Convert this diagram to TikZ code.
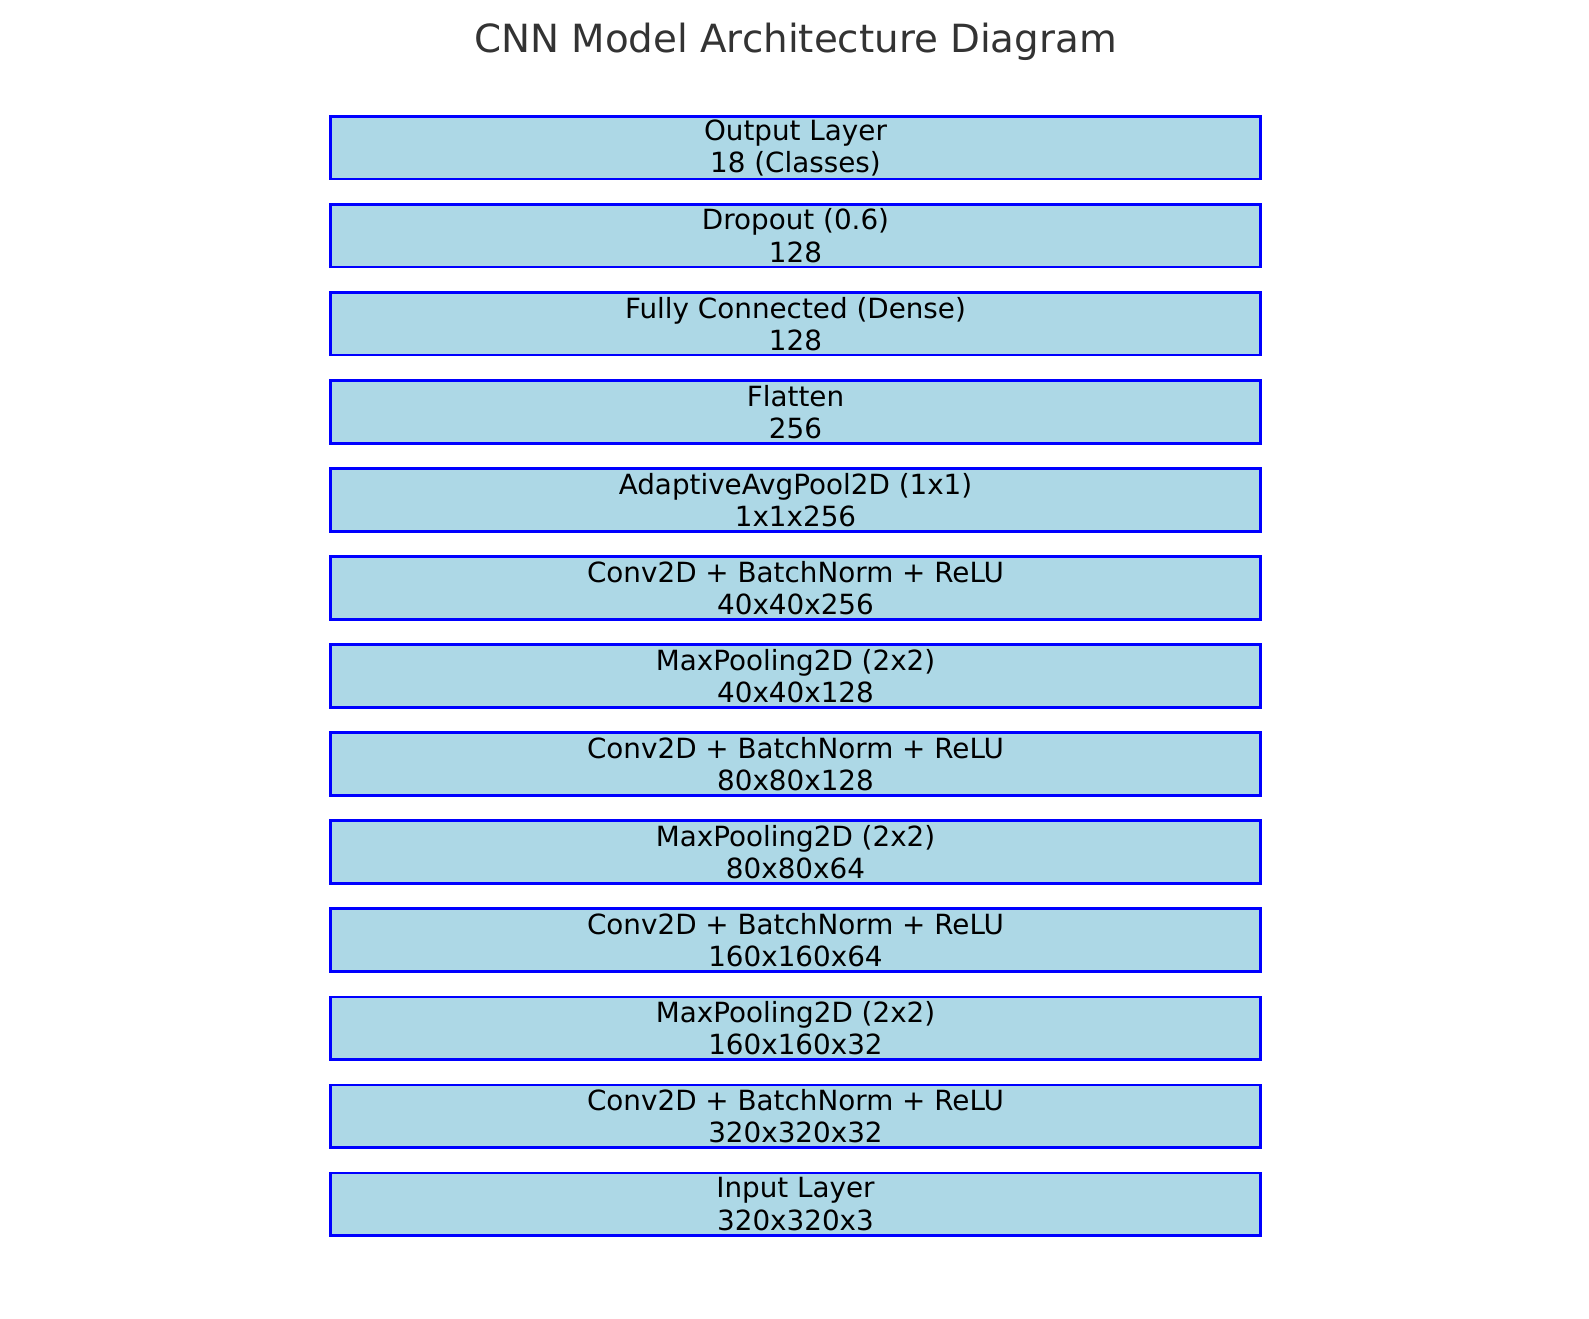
\documentclass[tikz,border=0pt]{standalone}
\usepackage{fontspec}
\setmainfont{DejaVu Sans}
\definecolor{boxfill}{HTML}{ADD8E6}
\definecolor{boxline}{HTML}{0000FF}
\definecolor{titlegray}{HTML}{333333}
\begin{document}
\begin{tikzpicture}[x=1pt,y=1pt,
  layer/.style={draw=boxline, fill=boxfill, line width=2.8pt, minimum width=930pt, minimum height=62.5pt, inner sep=0pt, align=center, font=\fontsize{27.8}{32.4}\selectfont, text=black},
  ttl/.style={font=\fontsize{38.8}{46}\selectfont, text=titlegray, anchor=base}]
\useasboundingbox (0,0) rectangle (1589,-1318);
\node[ttl] (title) at (795.5,-52.5) {CNN Model Architecture Diagram};
\def\sp{88.04}
\node[layer] (b1) at (795.5,-147.75) {Output Layer\\18 (Classes)};
\node[layer] (b2) at (795.5,{-147.75-1*\sp}) {Dropout (0.6)\\128};
\node[layer] (b3) at (795.5,{-147.75-2*\sp}) {Fully Connected (Dense)\\128};
\node[layer] (b4) at (795.5,{-147.75-3*\sp}) {Flatten\\256};
\node[layer] (b5) at (795.5,{-147.75-4*\sp}) {AdaptiveAvgPool2D (1x1)\\1x1x256};
\node[layer] (b6) at (795.5,{-147.75-5*\sp}) {Conv2D + BatchNorm + ReLU\\40x40x256};
\node[layer] (b7) at (795.5,{-147.75-6*\sp}) {MaxPooling2D (2x2)\\40x40x128};
\node[layer] (b8) at (795.5,{-147.75-7*\sp}) {Conv2D + BatchNorm + ReLU\\80x80x128};
\node[layer] (b9) at (795.5,{-147.75-8*\sp}) {MaxPooling2D (2x2)\\80x80x64};
\node[layer] (b10) at (795.5,{-147.75-9*\sp}) {Conv2D + BatchNorm + ReLU\\160x160x64};
\node[layer] (b11) at (795.5,{-147.75-10*\sp}) {MaxPooling2D (2x2)\\160x160x32};
\node[layer] (b12) at (795.5,{-147.75-11*\sp}) {Conv2D + BatchNorm + ReLU\\320x320x32};
\node[layer] (b13) at (795.5,{-147.75-12*\sp}) {Input Layer\\320x320x3};
\end{tikzpicture}
\end{document}
